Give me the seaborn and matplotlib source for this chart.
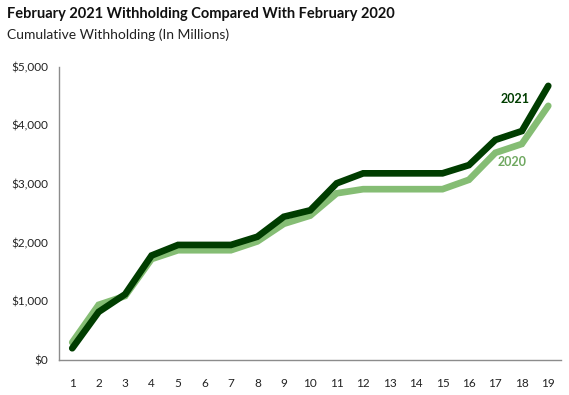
import matplotlib
matplotlib.use("Agg")
import matplotlib.pyplot as plt
import matplotlib.ticker as mticker
import seaborn as sns
import pandas as pd
import numpy as np

days = list(range(1, 20))
w2021 = [200, 820, 1120, 1780, 1960, 1960, 1960, 2100, 2440, 2550, 3010, 3180, 3180, 3180, 3180, 3320, 3750, 3900, 4670]
w2020 = [300, 940, 1090, 1720, 1870, 1870, 1870, 2020, 2320, 2460, 2840, 2910, 2910, 2910, 2910, 3070, 3530, 3680, 4330]

dark = "#003d00"
light = "#85bd74"

sns.set_style("white")
plt.rcParams['font.family'] = ['Lato', 'DejaVu Sans']

df = pd.DataFrame({"day": days * 2,
                   "value": w2020 + w2021,
                   "year": ["2020"] * 19 + ["2021"] * 19})

fig = plt.figure(figsize=(5.69, 3.95), dpi=100)
ax = fig.add_axes([59/569, 1 - 360/395, (561.5 - 59)/569, (360 - 66.5)/395])

sns.lineplot(data=df, x="day", y="value", hue="year", palette={"2020": light, "2021": dark},
             hue_order=["2020", "2021"], linewidth=4.8, legend=False, ax=ax,
             solid_joinstyle="miter", solid_capstyle="round")

ax.set_xlim(0.5, 19.5)
ax.set_ylim(0, 5000)
ax.set_xlabel("")
ax.set_ylabel("")
ax.set_xticks(days)
ax.set_xticklabels([str(d) for d in days])
ax.xaxis.set_minor_locator(mticker.FixedLocator(np.arange(0.5, 20, 1)))
ax.tick_params(axis="x", which="major", length=0, pad=13, labelsize=8.5, colors="#222222")
ax.tick_params(axis="x", which="minor", length=4, width=1, color="#8c8c8c", direction="out")
ax.set_yticks([0, 1000, 2000, 3000, 4000, 5000])
ax.yaxis.set_major_formatter(mticker.FuncFormatter(lambda v, p: f"${v:,.0f}"))
ax.tick_params(axis="y", which="major", length=4, width=1, direction="out",
               labelsize=8.5, pad=4)
ax.tick_params(axis="y", colors="#222222")
ax.tick_params(axis="y", color="#8c8c8c")
for s in ["top", "right"]:
    ax.spines[s].set_visible(False)
for s in ["left", "bottom"]:
    ax.spines[s].set_color("#8c8c8c")
    ax.spines[s].set_linewidth(1)

ax.text(17.75, 4440, "2021", color=dark, fontsize=9, fontweight="bold", ha="center", va="center")
ax.text(17.65, 3380, "2020", color="#6fa860", fontsize=9, fontweight="bold", ha="center", va="center")

fig.text(7/569, 1 - 14/395, "February 2021 Withholding Compared With February 2020",
         fontsize=10.5, fontweight="bold", ha="left", va="center", color="#111111")
fig.text(7/569, 1 - 35/395, "Cumulative Withholding (In Millions)",
         fontsize=10, ha="left", va="center", color="#222222")

fig.savefig("out.png", dpi=100)
